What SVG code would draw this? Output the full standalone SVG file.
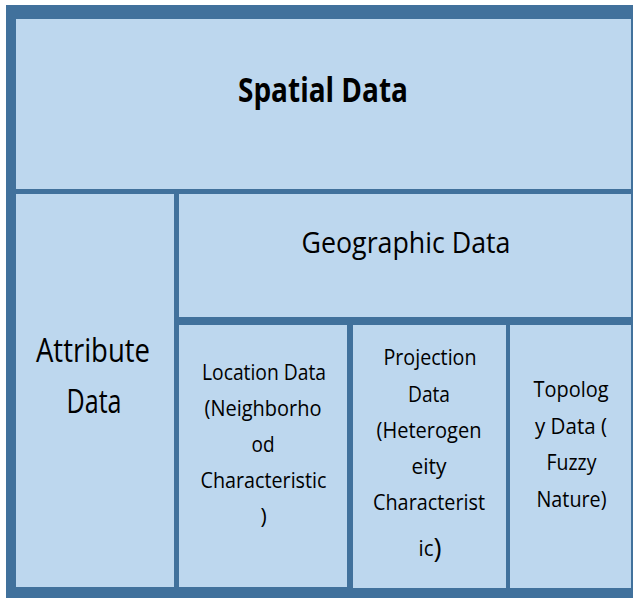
<svg xmlns="http://www.w3.org/2000/svg" width="633" height="598" viewBox="0 0 633 598">
  <style>
    .box { fill: #BDD7EE; }
    .frame { fill: #41719C; }
    text { font-family: "Open Sans", "Noto Sans", "DejaVu Sans", sans-serif; fill: #000; text-anchor: middle; }
    .title { font-weight: bold; font-size: 34px; }
    .mid { font-size: 30px; }
    .big { font-size: 32px; }
    .small { font-size: 21px; }
  </style>
  <rect x="0" y="0" width="633" height="598" fill="#FFFFFF"/>
  <rect class="frame" x="6" y="5" width="627" height="593"/>
  <g id="connectors"/>
  <g id="spatial-data">
    <rect class="box" x="16" y="19" width="615" height="170"/>
    <text class="title" x="323" y="102" textLength="170" lengthAdjust="spacingAndGlyphs">Spatial Data</text>
  </g>
  <g id="attribute-data">
    <rect class="box" x="16" y="194" width="158" height="393"/>
    <text class="big" x="93" y="362" textLength="114" lengthAdjust="spacingAndGlyphs">Attribute</text>
    <text class="big" x="94" y="412.5" textLength="55" lengthAdjust="spacingAndGlyphs">Data</text>
  </g>
  <g id="geographic-data">
    <rect class="box" x="179" y="194" width="452" height="123"/>
    <text class="mid" x="406" y="253" textLength="209" lengthAdjust="spacingAndGlyphs">Geographic Data</text>
  </g>
  <g id="location-data">
    <rect class="box" x="179" y="325" width="168" height="262"/>
    <text class="small" x="264" y="380" textLength="124" lengthAdjust="spacingAndGlyphs">Location Data</text>
    <text class="small" x="263" y="416" textLength="117" lengthAdjust="spacingAndGlyphs">(Neighborho</text>
    <text class="small" x="263" y="452" textLength="23" lengthAdjust="spacingAndGlyphs">od</text>
    <text class="small" x="263.5" y="488" textLength="126" lengthAdjust="spacingAndGlyphs">Characteristic</text>
    <text class="small" x="263.5" y="524">)</text>
  </g>
  <g id="projection-data">
    <rect class="box" x="353" y="325" width="153" height="263"/>
    <text class="small" x="430" y="365" textLength="93" lengthAdjust="spacingAndGlyphs">Projection</text>
    <text class="small" x="429" y="401.5" textLength="42" lengthAdjust="spacingAndGlyphs">Data</text>
    <text class="small" x="429" y="437.5" textLength="105" lengthAdjust="spacingAndGlyphs">(Heterogen</text>
    <text class="small" x="429" y="474" textLength="35" lengthAdjust="spacingAndGlyphs">eity</text>
    <text class="small" x="429" y="510" textLength="112" lengthAdjust="spacingAndGlyphs">Characterist</text>
    <text class="small" x="430" y="556" textLength="23" lengthAdjust="spacingAndGlyphs">ic<tspan style="font-size:28px" dy="2">)</tspan></text>
  </g>
  <g id="topology-data">
    <rect class="box" x="510" y="325" width="121" height="263"/>
    <text class="small" x="571" y="396.5" textLength="75" lengthAdjust="spacingAndGlyphs">Topolog</text>
    <text class="small" x="571" y="434" textLength="72" lengthAdjust="spacingAndGlyphs">y Data (</text>
    <text class="small" x="571.5" y="470" textLength="50" lengthAdjust="spacingAndGlyphs">Fuzzy</text>
    <text class="small" x="571.5" y="506.5" textLength="70" lengthAdjust="spacingAndGlyphs">Nature)</text>
  </g>
</svg>
